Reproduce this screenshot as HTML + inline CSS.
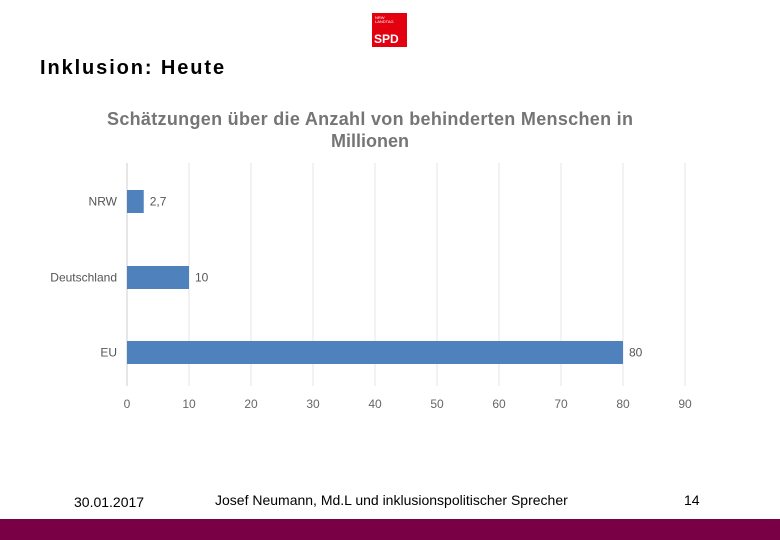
<!DOCTYPE html>
<html><head><meta charset="utf-8"><style>
body{margin:0;width:780px;height:540px;background:#fff;position:relative;overflow:hidden;font-family:"Liberation Sans",sans-serif}
.abs{position:absolute}
</style></head><body>
<div class="abs" style="left:372px;top:13px;width:35px;height:34px;background:#e3000f;">
<div style="position:absolute;left:3px;top:3px;font-size:4px;color:#fff;line-height:4px">NRW<br>LANDTAG</div>
<div style="position:absolute;left:2px;top:19px;font-size:12px;font-weight:bold;color:#fff">SPD</div></div>
<div class="abs" style="left:40px;top:57px;font-size:20px;font-weight:bold;letter-spacing:1.9px;color:#000">Inklusion: Heute</div>
<svg class="abs" style="left:0;top:0" width="780" height="540">
<text x="370" y="125" text-anchor="middle" font-size="18" textLength="526" font-weight="bold" fill="#757575">Schätzungen über die Anzahl von behinderten Menschen in</text>
<text x="370" y="147" text-anchor="middle" font-size="18" font-weight="bold" fill="#757575">Millionen</text>
<g id="grid"></g><g id="bars"></g>
</svg>
<div class="abs" style="left:74px;top:494px;font-size:14px">30.01.2017</div>
<div class="abs" style="left:215px;top:492px;font-size:14px">Josef Neumann, Md.L und inklusionspolitischer Sprecher</div>
<div class="abs" style="left:684px;top:492px;font-size:14px">14</div>
<div class="abs" style="left:0;top:519px;width:780px;height:21px;background:#7a0046"></div>
<script>
const categories=["NRW","Deutschland","EU"];
const values=[2.7,10,80];
const valueLabels=["2,7","10","80"];
const ticks=[0,10,20,30,40,50,60,70,80,90];
const NS="http://www.w3.org/2000/svg";
const x=v=>127+v*6.2;
const rowY=[201.5,277.5,352.5];
const g=document.getElementById('grid'),b=document.getElementById('bars');
function mk(tag,at,p){const e=document.createElementNS(NS,tag);for(const k in at)e.setAttribute(k,at[k]);p.appendChild(e);return e;}
ticks.forEach(t=>{
 const l=mk('line',{x1:x(t),x2:x(t),y1:163,y2:386,stroke:t===0?'#ccc':'#e6e6e6','stroke-width':1},g);
 
 
 const tx=mk('text',{x:x(t),y:408,'text-anchor':'middle','font-size':12,fill:'#666'},g);tx.textContent=t;
 
 
});
categories.forEach((c,i)=>{
 const cy=rowY[i];
 const r=mk('rect',{x:x(0),y:cy-11.5,width:x(values[i])-x(0),height:23,fill:'#4f81bd'},b);
 
 
 const lt=mk('text',{x:117,y:cy+4,'text-anchor':'end','font-size':12,fill:'#555'},b);lt.textContent=c;
 
 
 const vt=mk('text',{x:x(values[i])+6,y:cy+4,'font-size':12,fill:'#555'},b);vt.textContent=valueLabels[i];
 
 
});
</script>
</body></html>
